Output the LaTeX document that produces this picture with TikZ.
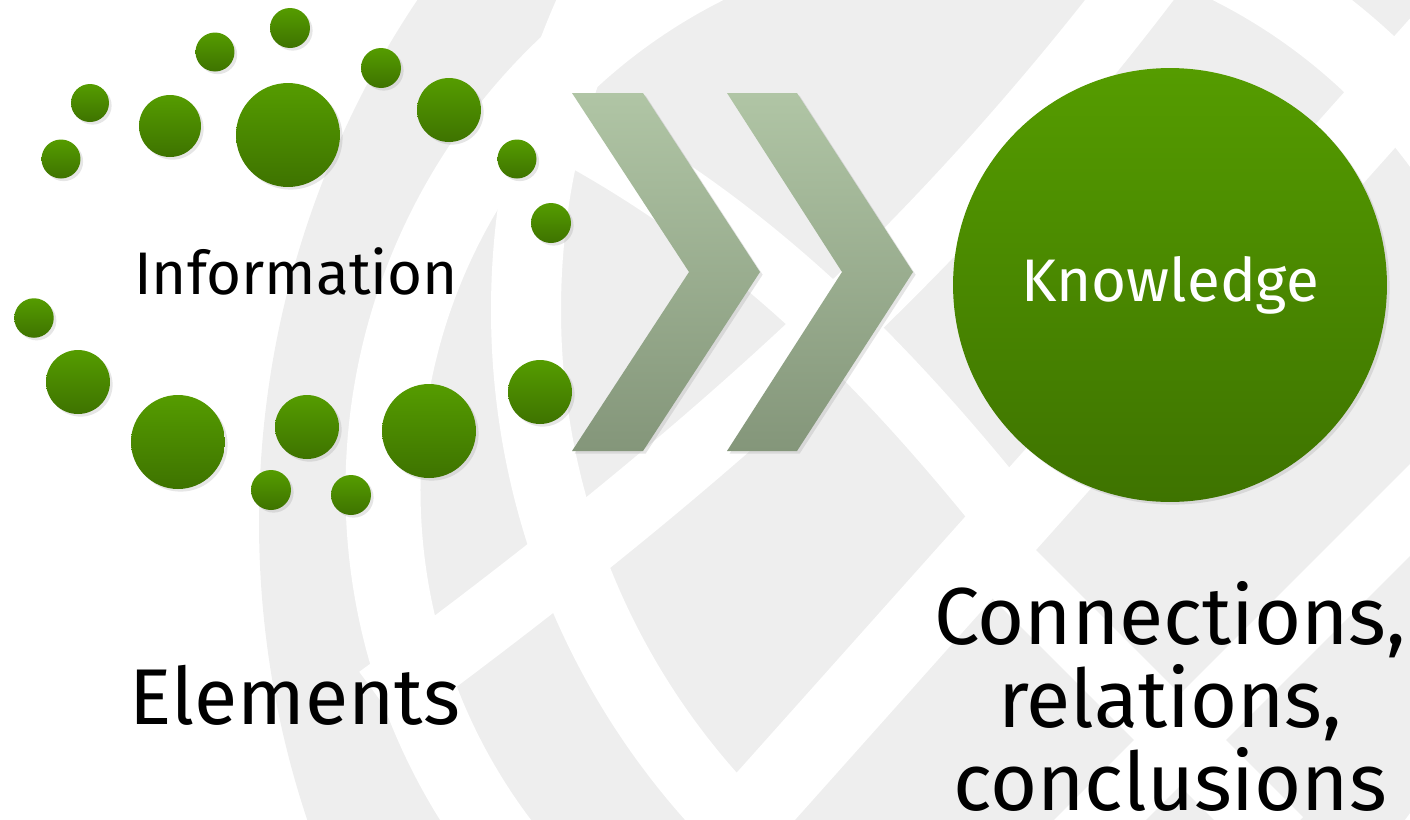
\documentclass[tikz,border=0pt]{standalone}
\usepackage{fontspec}
\setmainfont{Fira Sans}
\usetikzlibrary{shadows}

\definecolor{leafgreen}{RGB}{85,156,0}
\definecolor{darkleaf}{RGB}{62,115,0}
\definecolor{sagetop}{RGB}{176,197,165}
\definecolor{sagebot}{RGB}{132,150,122}
\definecolor{bggray}{RGB}{238,238,238}

\tikzset{
  dot/.style={circle, inner sep=0pt, minimum size=#1, top color=leafgreen,
    bottom color=darkleaf, drop shadow={shadow xshift=1.5pt, shadow yshift=-1.5pt, opacity=0.2}},
  chevron/.style={top color=sagetop, bottom color=sagebot,
    drop shadow={shadow xshift=1.5pt, shadow yshift=-1.5pt, opacity=0.2}},
  bgband/.style={draw=white, line width=#1},
  bgband/.default=1.4cm,
  caption/.style={inner sep=0pt, anchor=base},
}

\begin{document}
\begin{tikzpicture}[x=0.02cm, y=-0.02cm]
\useasboundingbox (0,0) rectangle (1410,819);

% faded logo behind everything
\begin{scope}
  \clip (0,0) rectangle (1410,819);
  \fill[bggray] (1198,522) circle (939);
  \draw[bgband=1.5cm] (968,490) circle (585);
  \draw[bgband] (1258,310) circle (732);
  \draw[bgband=1.44cm] (800,593) ++(118:569) arc (118:30:569);
  \draw[bgband] (968,490) ++(75:660) arc (75:15:660);
  \draw[bgband] (1160,-40) .. controls (950,240) and (720,450) .. (380,700);
  \draw[bgband=1.3cm] (560,125) .. controls (760,230) and (900,380) .. (1030,545);
  \draw[bgband=1.5cm] (1450,30) -- (700,870);
  \draw[bgband=1.3cm] (1480,440) -- (1050,870);
  \draw[bgband=1.3cm] (1000,560) -- (1280,840);
\end{scope}

% information elements
\foreach \n/\x/\y/\s in {1/290/28/0.8, 2/215/52/0.78, 3/90/103/0.76, 4/61/159/0.78,
    5/170/126/1.24, 6/288/135/2.08, 7/381/68/0.8, 8/449/110/1.28, 9/517/159/0.78,
    10/551/223/0.8, 11/34/318/0.79, 12/78/382/1.28, 13/178/442/1.88, 14/307/427/1.28,
    15/429/431/1.88, 16/540/392/1.28, 17/271/490/0.8, 18/351/495/0.8}
  \node[dot=\s cm] (d\n) at (\x,\y) {};

\node[caption, font=\fontsize{34.2}{41}\selectfont] (info) at (296,294) {Information};

% arrows
\path[chevron] (572,93) -- (643,93) -- (760,272) -- (643,451) -- (572,451) -- (689,272) -- cycle;
\path[chevron] (727,93) -- (797,93) -- (913,272) -- (797,451) -- (727,451) -- (842,272) -- cycle;

\node[dot=8.68cm, text=white, font=\fontsize{34.2}{41}\selectfont] (know) at (1170,285) {Knowledge};

\node[caption, font=\fontsize{45}{54}\selectfont] (elem) at (295,724) {Elements};
\node[caption, align=center, font=\fontsize{46}{47.2}\selectfont] (conn) at (1170,810)
  {Connections,\\ relations,\\ conclusions};
\end{tikzpicture}
\end{document}
